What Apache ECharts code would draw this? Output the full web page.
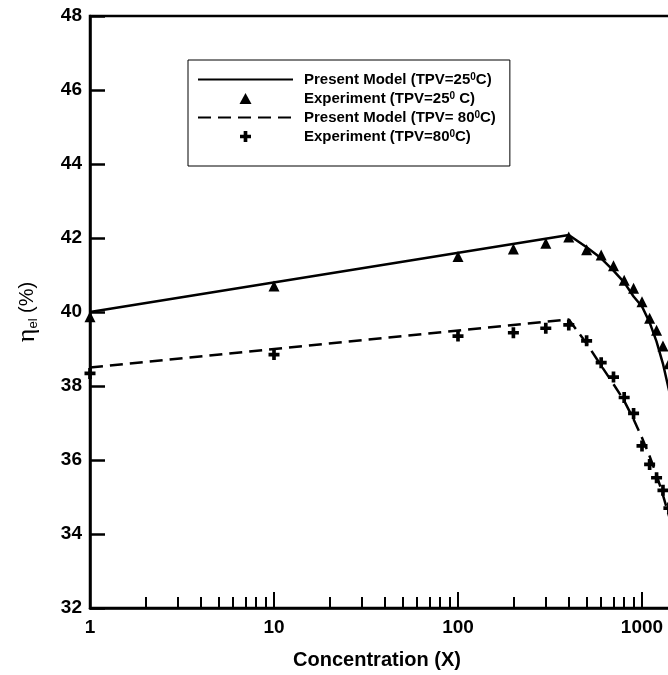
<!DOCTYPE html>
<html><head><meta charset="utf-8">
<script src="https://cdn.jsdelivr.net/npm/echarts@6/dist/echarts.min.js"></script>
<style>html,body{margin:0;padding:0;background:#fff}#c{width:668px;height:675px}</style>
</head><body><div id="c"></div>
<script>
// ---- data ----
const modelX25 = [1, 400, 500, 600, 700, 800, 900, 1000, 1100, 1200, 1300, 1400, 1500];
const modelY25 = [40.0, 42.08, 41.75, 41.45, 41.12, 40.8, 40.42, 40.15, 39.72, 39.2, 38.6, 37.9, 37.2];
const expX25 = [1, 10, 100, 200, 300, 400, 500, 600, 700, 800, 900, 1000, 1100, 1200, 1300, 1400];
const expY25 = [39.87, 40.7, 41.5, 41.7, 41.86, 42.03, 41.68, 41.54, 41.25, 40.86, 40.64, 40.28, 39.83, 39.51, 39.08, 38.6];
const modelX80 = [1, 400, 500, 600, 700, 800, 900, 1000, 1100, 1200, 1300, 1400, 1500];
const modelY80 = [38.5, 39.8, 39.15, 38.55, 38.05, 37.6, 37.1, 36.6, 36.1, 35.6, 35.05, 34.5, 34.0];
const expX80 = [1, 10, 100, 200, 300, 400, 500, 600, 700, 800, 900, 1000, 1100, 1200, 1300, 1400];
const expY80 = [38.34, 38.85, 39.35, 39.44, 39.56, 39.65, 39.22, 38.63, 38.24, 37.69, 37.26, 36.38, 35.88, 35.52, 35.18, 34.7];
const seriesNames = ['Present Model (TPV=25^0C)', 'Experiment (TPV=25^0 C)', 'Present Model (TPV= 80^0C)', 'Experiment (TPV=80^0C)'];
const xTitle = 'Concentration (X)';
const yTitle = ['\u03B7', 'el', ' (%)'];

const pairs = (xs, ys) => xs.map((x, i) => [x, ys[i]]);
const FONT = 'Liberation Sans, Arial, sans-serif';
const crossPath = 'path://M4,0H8V4H12V8H8V12H4V8H0V4H4Z';
const triPath = 'path://M6,0L12,11H0Z';
const hiddenMark = {color: 'rgba(0,0,0,0)', borderColor: 'rgba(0,0,0,0)', borderWidth: 0};

const chart = echarts.init(document.getElementById('c'), null, {renderer: 'canvas'});
chart.setOption({
  animation: false,
  backgroundColor: '#fff',
  grid: {left: 90, top: 16, right: -158, bottom: 67, show: true, borderColor: '#000', borderWidth: 2.5, outerBoundsMode: 'none'},
  legend: {
    left: 188, top: 60, orient: 'vertical',
    itemWidth: 95, itemHeight: 11, itemGap: 4,
    padding: [12, 14, 22, 9],
    borderColor: '#000', borderWidth: 1,
    symbolKeepAspect: true,
    data: [
      {name: seriesNames[0], itemStyle: hiddenMark},
      {name: seriesNames[1], icon: triPath},
      {name: seriesNames[2], itemStyle: hiddenMark},
      {name: seriesNames[3], icon: crossPath}
    ],
    formatter: n => n.replace('^0', '{sup|0}'),
    textStyle: {
      fontFamily: FONT, fontWeight: 'bold', fontSize: 15, color: '#000', padding: [0, 0, 0, 6],
      rich: {sup: {fontFamily: FONT, fontWeight: 'bold', fontSize: 10, color: '#000', verticalAlign: 'top'}}
    }
  },
  xAxis: {
    type: 'log', logBase: 10, min: 1, max: 10000,
    name: xTitle, nameLocation: 'middle', nameGap: 42,
    nameTextStyle: {fontFamily: FONT, fontWeight: 'bold', fontSize: 20, color: '#000', padding: [0, 162, 0, 0]},
    axisLine: {lineStyle: {color: '#000', width: 2.5}},
    axisTick: {inside: true, length: 16, lineStyle: {color: '#000', width: 2}},
    minorTick: {show: true, splitNumber: 9, length: 11, lineStyle: {color: '#000', width: 2}},
    axisLabel: {fontFamily: FONT, fontWeight: 'bold', fontSize: 19, color: '#000', margin: 10,
      formatter: v => String(Math.round(v))},
    splitLine: {show: false}, minorSplitLine: {show: false}
  },
  yAxis: {
    type: 'value', min: 32, max: 48, interval: 2,
    name: '{eta|' + yTitle[0] + '}{sub|' + yTitle[1] + '}{pct|' + yTitle[2] + '}',
    nameLocation: 'middle', nameGap: 50, nameRotate: 90,
    nameTextStyle: {rich: {
      eta: {fontFamily: 'Liberation Serif, Times New Roman, serif', fontSize: 26, color: '#000'},
      sub: {fontFamily: FONT, fontSize: 13, color: '#000', verticalAlign: 'bottom'},
      pct: {fontFamily: FONT, fontSize: 20, color: '#000'}
    }},
    axisLine: {lineStyle: {color: '#000', width: 2.5}},
    axisTick: {inside: true, length: 15, lineStyle: {color: '#000', width: 2.5}},
    axisLabel: {fontFamily: FONT, fontWeight: 'bold', fontSize: 19, color: '#000', margin: 8},
    splitLine: {show: false}
  },
  series: [
    {name: seriesNames[0], type: 'line', data: pairs(modelX25, modelY25), symbol: 'circle', showSymbol: false,
      lineStyle: {color: '#000', width: 2.5}, itemStyle: {color: '#000'}, z: 2},
    {name: seriesNames[1], type: 'scatter', data: pairs(expX25, expY25), symbol: 'triangle', symbolSize: 11,
      itemStyle: {color: '#000', opacity: 1}, z: 3},
    {name: seriesNames[2], type: 'line', data: pairs(modelX80, modelY80), symbol: 'circle', showSymbol: false,
      lineStyle: {color: '#000', width: 2.5, type: [13, 7]}, itemStyle: {color: '#000'}, z: 2},
    {name: seriesNames[3], type: 'scatter', data: pairs(expX80, expY80), symbol: crossPath, symbolSize: 11,
      symbolKeepAspect: true, itemStyle: {color: '#000', opacity: 1}, z: 3}
  ]
});
</script></body></html>
